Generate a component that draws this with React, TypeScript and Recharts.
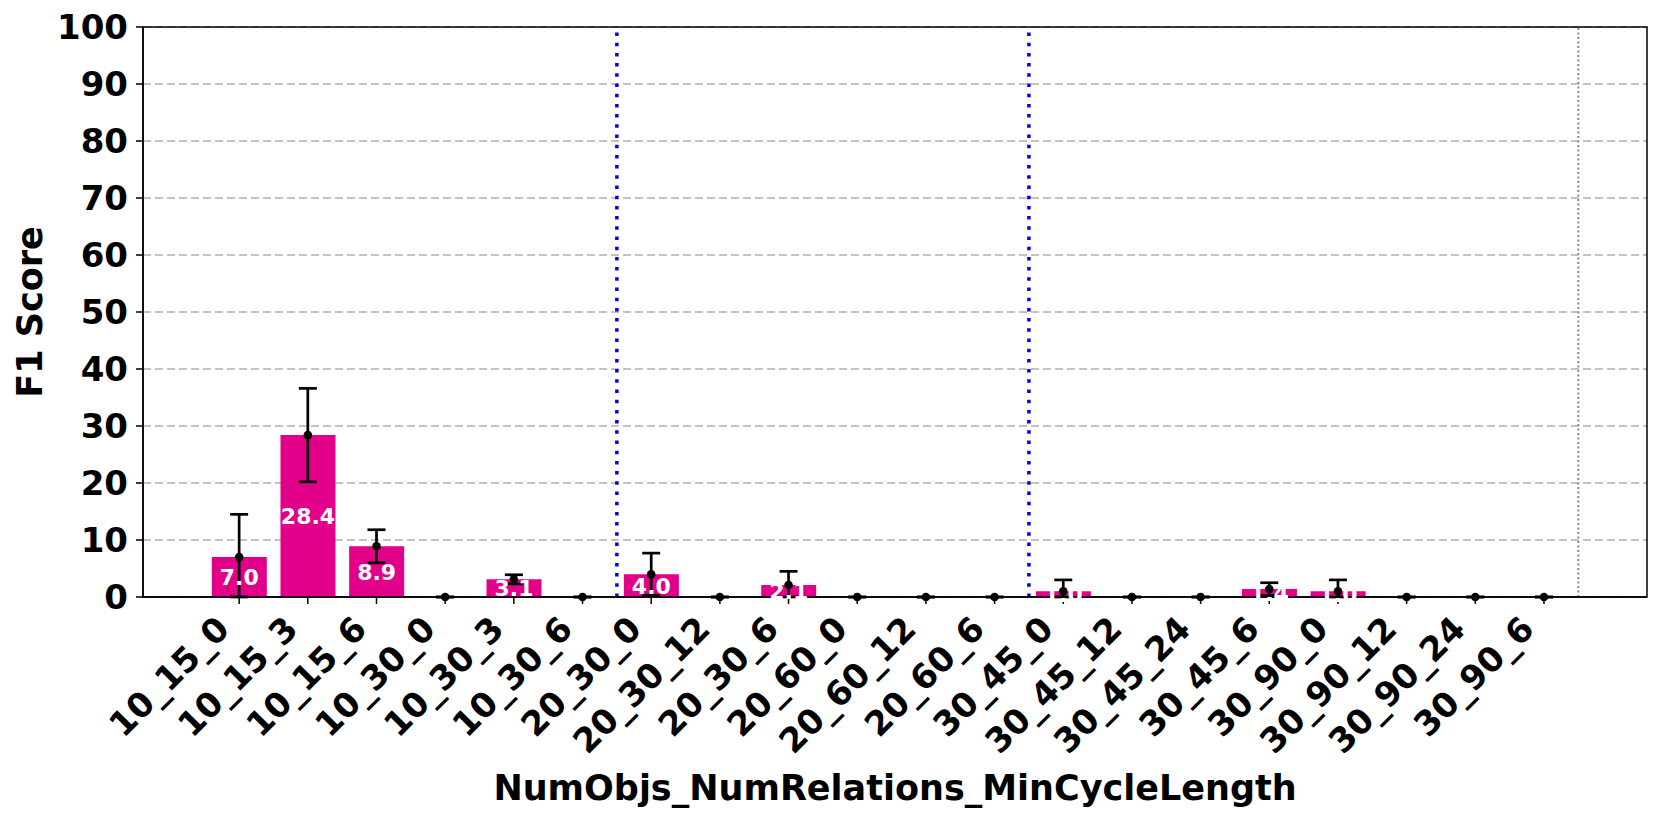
import {
    ComposedChart,
    Bar,
    Scatter,
    ErrorBar,
    XAxis,
    YAxis,
    CartesianGrid,
    ReferenceLine,
    ReferenceArea,
    LabelList,
    Label,
} from 'recharts';

const CATEGORIES = [
    '10_15_0', '10_15_3', '10_15_6', '10_30_0', '10_30_3', '10_30_6',
    '20_30_0', '20_30_12', '20_30_6', '20_60_0', '20_60_12', '20_60_6',
    '30_45_0', '30_45_12', '30_45_24', '30_45_6', '30_90_0', '30_90_12',
    '30_90_24', '30_90_6',
];
const F1_MEAN = [7.0, 28.4, 8.9, 0, 3.1, 0, 4.0, 0, 2.1, 0, 0, 0, 1.0, 0, 0, 1.4, 1.0, 0, 0, 0];
const F1_ERR = [7.5, 8.2, 2.9, 0, 0.8, 0, 3.7, 0, 2.4, 0, 0, 0, 2.0, 0, 0, 1.1, 2.0, 0, 0, 0];
const Y_TICKS = [0, 10, 20, 30, 40, 50, 60, 70, 80, 90, 100];
const GROUP_DIVIDERS = [5.5, 11.5];
const END_DIVIDER = 19.5;

const FONT = 'DejaVu Sans';
const BAR_COLOR = '#e2008a';

// error bars are clipped at zero like in the original plot
const data = CATEGORIES.map((name, i) => ({
    idx: i,
    name,
    f1: F1_MEAN[i],
    err: [Math.min(F1_ERR[i], F1_MEAN[i]), F1_ERR[i]],
}));

const XTick = (props: any) => {
    const { x, y, payload } = props;
    const ax = x - 8;
    const ay = y + 25;
    return (
        <text
            x={ax}
            y={ay}
            transform={`rotate(-45, ${ax}, ${ay})`}
            textAnchor="end"
            fontSize={34}
            fontWeight="bold"
            fontFamily={FONT}
            fill="#000"
        >
            {CATEGORIES[payload.value]}
        </text>
    );
};

const BarLabel = (props: any) => {
    const { x, y, width, height, value } = props;
    if (!value) return null;
    return (
        <text
            x={x + width / 2}
            y={y + height / 2}
            dy="0.36em"
            textAnchor="middle"
            fontSize={22}
            fontWeight="bold"
            fontFamily={FONT}
            fill="#fff"
        >
            {Number(value).toFixed(1)}
        </text>
    );
};

const Dot = (props: any) => <circle cx={props.cx} cy={props.cy} r={4.3} fill="#000" />;

export default function App() {
    return (
        <div style={{ position: 'absolute', left: 0, top: 0, background: '#fff' }}>
            <ComposedChart
                width={1662}
                height={820}
                data={data}
                margin={{ top: 27, right: 15, bottom: 0, left: 0 }}
            >
                <CartesianGrid
                    vertical={false}
                    stroke="#b0b0b0"
                    strokeWidth={1.5}
                    strokeDasharray="8 4"
                />
                <XAxis
                    dataKey="idx"
                    type="number"
                    domain={[-1.4, 20.5]}
                    ticks={CATEGORIES.map((_, i) => i)}
                    interval={0}
                    height={223}
                    tickSize={7}
                    tickMargin={2}
                    tick={<XTick />}
                    tickLine={{ stroke: '#000', strokeWidth: 1.5 }}
                    axisLine={{ stroke: '#000', strokeWidth: 1.5 }}
                >
                    <Label
                        value="NumObjs_NumRelations_MinCycleLength"
                        position="insideBottom"
                        offset={20}
                        style={{ fontSize: 35, fontWeight: 'bold', fontFamily: FONT, fill: '#000' }}
                    />
                </XAxis>
                <YAxis
                    type="number"
                    domain={[0, 100]}
                    ticks={Y_TICKS}
                    interval={0}
                    width={143}
                    tickSize={7}
                    tickMargin={8}
                    tick={{ fontSize: 34, fontWeight: 'bold', fontFamily: FONT, fill: '#000' }}
                    tickLine={{ stroke: '#000', strokeWidth: 1.5 }}
                    axisLine={{ stroke: '#000', strokeWidth: 1.5 }}
                >
                    <Label
                        content={(p: any) => {
                            const vb = p.viewBox;
                            const cx = vb.x + 42;
                            const cy = vb.y + vb.height / 2;
                            return (
                                <text
                                    x={cx}
                                    y={cy}
                                    transform={`rotate(-90, ${cx}, ${cy})`}
                                    textAnchor="middle"
                                    fontSize={35}
                                    fontWeight="bold"
                                    fontFamily={FONT}
                                    fill="#000"
                                >
                                    F1 Score
                                </text>
                            );
                        }}
                    />
                </YAxis>
                <ReferenceArea
                    x1={-1.4}
                    x2={20.5}
                    y1={0}
                    y2={100}
                    fill="none"
                    stroke="#000"
                    strokeWidth={1.5}
                />
                {GROUP_DIVIDERS.map((v) => (
                    <ReferenceLine
                        key={v}
                        x={v}
                        stroke="#0000ff"
                        strokeWidth={3.5}
                        strokeDasharray="3.5 6.7"
                    />
                ))}
                <ReferenceLine x={END_DIVIDER} stroke="#888" strokeWidth={2} strokeDasharray="2 2.5" />
                <Bar dataKey="f1" fill={BAR_COLOR} barSize={55} isAnimationActive={false}>
                    <LabelList dataKey="f1" content={<BarLabel />} />
                </Bar>
                <Scatter dataKey="f1" shape={<Dot />} isAnimationActive={false}>
                    <ErrorBar dataKey="err" direction="y" width={9} stroke="#000" strokeWidth={2.7} />
                </Scatter>
            </ComposedChart>
        </div>
    );
}
